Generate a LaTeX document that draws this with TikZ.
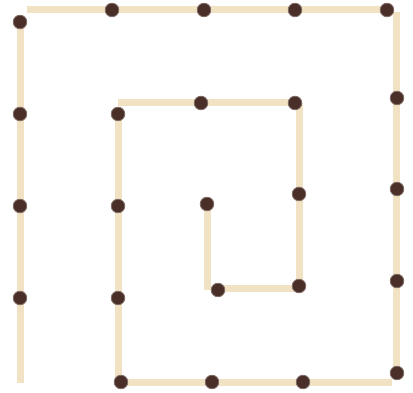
\documentclass[tikz,border=0pt]{standalone}
\definecolor{stickcol}{HTML}{F0E2C2}
\definecolor{headcol}{HTML}{4A2E28}
\begin{document}
\begin{tikzpicture}[x=1pt,y=-1pt,
  stick/.style={draw=stickcol,line width=7pt,line cap=butt},
  head/.style={fill=headcol,draw=headcol!70!white,line width=0.8pt}]
\useasboundingbox (0,0) rectangle (413,393);
% sticks
\draw[stick] (20,383) -- (20,22);
\draw[stick] (27,10) -- (387,10);
\draw[stick] (396,12) -- (396,373);
\draw[stick] (121,382) -- (392,382);
\draw[stick] (118,382) -- (118,114);
\draw[stick] (118,103) -- (295,103);
\draw[stick] (299,103) -- (299,286);
\draw[stick] (218,289) -- (299,289);
\draw[stick] (207,290) -- (207,203);
% heads
\foreach \p in {(20,22),(20,114),(20,206),(20,298),
  (112,10),(204,10),(295,10),(387,10),
  (397,98),(397,189),(397,281),(397,373),
  (121,382),(212,382),(303,382),
  (118,114),(118,206),(118,298),
  (201,103),(295,103),
  (299,194),(299,286),
  (218,290),(207,204)}
  \fill[head] \p circle (6.8pt);
\end{tikzpicture}
\end{document}
